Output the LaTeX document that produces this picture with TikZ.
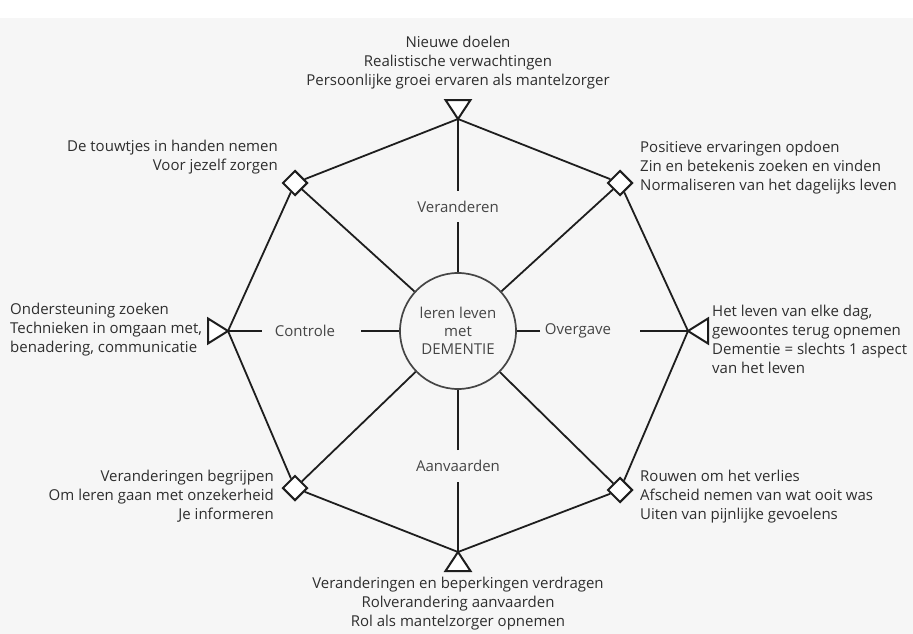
\documentclass[tikz,border=0pt]{standalone}
\usepackage{fontspec}
\setmainfont{Open Sans}
\usetikzlibrary{shapes.geometric}
\definecolor{paper}{HTML}{F6F6F6}
\definecolor{ink}{HTML}{1E1E1E}
\definecolor{txt}{HTML}{2E2E2E}
\definecolor{soft}{HTML}{454545}
\tikzset{
  edge/.style={draw=ink, line width=1.8pt},
  diam/.style={diamond, draw=ink, line width=2pt, fill=white, inner sep=0pt, minimum width=25pt, minimum height=25pt},
  tri/.style={draw=ink, line width=2pt, fill=white, line join=miter},
  body/.style={text=txt, inner sep=0pt, font=\fontsize{15}{19}\selectfont},
  phase/.style={text=soft, inner sep=0pt, font=\fontsize{15}{18}\selectfont},
}
\begin{document}
\begin{tikzpicture}[x=1pt, y=-1pt]
\useasboundingbox (0,0) rectangle (913,634);
\fill[paper] (0,0) rectangle (913,634);
\fill[white] (0,0) rectangle (913,18);

% outer ring points
\coordinate (vT) at (458,119);
\coordinate (vR) at (688,331);
\coordinate (vB) at (458,552);
\coordinate (vL) at (228,331);
\node[diam] (dTR) at (620,183) {};
\node[diam] (dBR) at (620,490) {};
\node[diam] (dBL) at (295,488) {};
\node[diam] (dTL) at (295,183) {};

% centre
\node[circle, draw=soft, line width=1.7pt, minimum size=116pt, inner sep=0pt,
      align=center, phase] (c) at (458,331) {leren leven\\met\\DEMENTIE};

% phase labels on the straight spokes
\node[phase] (pT) at (458,207) {Veranderen};
\node[phase] (pL) at (305,331) {Controle};
\node[phase] (pR) at (578,331) {Overgave};
\node[phase] (pB) at (458,466) {Aanvaarden};
\coordinate (pT1) at (458,191); \coordinate (pT2) at (458,222);
\coordinate (pB1) at (458,450); \coordinate (pB2) at (458,482);
\coordinate (pL1) at (262,331); \coordinate (pL2) at (361,331);
\coordinate (pR1) at (540,331); \coordinate (pR2) at (640,331);

% octagon
\draw[edge] (vT) -- (dTR);
\draw[edge] (dTR) -- (vR);
\draw[edge] (vR) -- (dBR);
\draw[edge] (dBR) -- (vB);
\draw[edge] (vB) -- (dBL);
\draw[edge] (dBL) -- (vL);
\draw[edge] (vL) -- (dTL);
\draw[edge] (dTL) -- (vT);

% spokes
\draw[edge] (vT) -- (pT1);  \draw[edge] (pT2) -- (c);
\draw[edge] (vB) -- (pB2);  \draw[edge] (pB1) -- (c);
\draw[edge] (vL) -- (pL1);  \draw[edge] (pL2) -- (c);
\draw[edge] (vR) -- (pR2);  \draw[edge] (pR1) -- (c);
\draw[edge] (dTR) -- (c);
\draw[edge] (dBR) -- (c);
\draw[edge] (dBL) -- (c);
\draw[edge] (dTL) -- (c);

% triangles at the four straight ends
\draw[tri] (vT) -- ++(-12.5,-19) -- ++(25,0) -- cycle;
\draw[tri] (vB) -- ++(-12.5,19) -- ++(25,0) -- cycle;
\draw[tri] (vL) -- ++(-20,-12.5) -- ++(0,25) -- cycle;
\draw[tri] (vR) -- ++(20,-12.5) -- ++(0,25) -- cycle;

% texts
\node[body, align=center] (tT) at (458,63)
  {Nieuwe doelen\\Realistische verwachtingen\\Persoonlijke groei ervaren als mantelzorger};
\node[body, align=right, anchor=east] (tTL) at (278,157)
  {De touwtjes in handen nemen\\Voor jezelf zorgen};
\node[body, align=left, anchor=west] (tTR) at (640,168)
  {Positieve ervaringen opdoen\\Zin en betekenis zoeken en vinden\\Normaliseren van het dagelijks leven};
\node[body, align=left, anchor=west] (tL) at (10,330)
  {Ondersteuning zoeken\\Technieken in omgaan met,\\benadering, communicatie};
\node[body, align=left, anchor=west] (tR) at (712,339)
  {Het leven van elke dag,\\gewoontes terug opnemen\\Dementie = slechts 1 aspect\\van het leven};
\node[body, align=right, anchor=east] (tBL) at (274,496)
  {Veranderingen begrijpen\\Om leren gaan met onzekerheid\\Je informeren};
\node[body, align=left, anchor=west] (tBR) at (640,497)
  {Rouwen om het verlies\\Afscheid nemen van wat ooit was\\Uiten van pijnlijke gevoelens};
\node[body, align=center] (tB) at (458,604)
  {Veranderingen en beperkingen verdragen\\Rolverandering aanvaarden\\Rol als mantelzorger opnemen};
\end{tikzpicture}
\end{document}
